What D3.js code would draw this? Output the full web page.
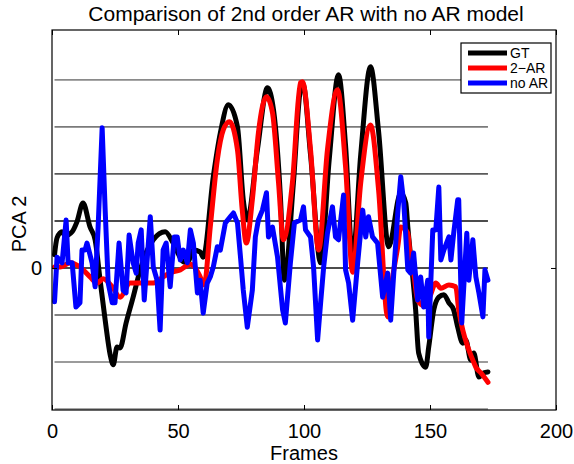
<!DOCTYPE html>
<html>
<head>
<meta charset="utf-8">
<script src="https://cdn.jsdelivr.net/npm/d3@7"></script>
<style>
body{margin:0;background:#fff;}
svg{display:block;}
text{font-family:"Liberation Sans",Arial,Helvetica,sans-serif;fill:#000;}
</style>
</head>
<body>
<svg id="c" width="574" height="464"></svg>
<script>
// ---- data ----
const xTicks = [0, 50, 100, 150, 200];
const yTicks = [0];
const gridLevels = [-3, -2, -1, 0, 1, 2, 3, 4];
const gridRange = [1, 173];

const gtFrames = [1,2,4,5.2,8,9.9,12.3,15.1,17.1,19.1,21.1,23.1,24.3,25.8,27,29.4,32.2,35,37.8,40.2,44.9,48.1,52.1,53.7,56.1,58.8,60,64,66.8,70,73.6,75.9,77.5,81.5,85.5,87.9,90.7,92.2,95.8,98.6,99.6,102.6,106.6,110,113.7,116.5,119.3,122.5,126.4,129.6,133.6,138.4,140.4,141.2,144.3,145.5,148.3,149.5,151.5,153.5,155.5,157.5,159.4,161,163,164.2,166.2,167.4,169.4,171.4,173];
const gtValues = [0.28,0.64,0.77,0.68,0.77,0.98,1.38,0.87,0.6,-0.26,-1.11,-1.85,-2.06,-1.68,-1.7,-1.17,-0.62,-0.04,0.38,0.6,0.77,0.53,0.13,0.11,0.38,0.34,0.23,1.94,2.87,3.47,3.0,1.45,1.02,2.51,3.83,3.36,1.45,-0.26,1.81,3.8,3.9,2.4,0.11,2.3,4.11,2.6,0.23,2.4,4.28,2.9,0.45,1.6,1.38,0.87,-0.89,-1.81,-2.11,-1.68,-0.89,-0.62,-0.57,-0.74,-0.89,-1.26,-1.6,-1.53,-1.96,-1.81,-2.32,-2.23,-2.21];

const arFrames = [1,3.2,7.2,11.1,15.1,17.9,20.3,23.9,27,31,33.8,37.8,40.2,44.1,46.5,50.9,54.9,56.9,58.8,60.4,62.8,65.6,68,70.4,73.6,75.5,77.1,79.5,81.9,85.1,87.5,89.9,91.8,95.4,98.6,99.4,102.6,105.8,109.3,113.3,116.5,119.3,122.5,126.4,129.6,133.2,135.2,137.2,138.4,141.2,142.3,143.5,145.1,147.5,150,152.3,154.3,157.5,160.2,161.4,163,165,167,168.2,170.2,173];
const arValues = [0.02,0.02,0.11,0.02,-0.19,-0.32,-0.23,-0.4,-0.62,-0.32,-0.32,-0.32,-0.32,-0.19,-0.11,-0.04,0.08,0.0,-0.19,-0.36,0.87,2.3,2.94,3.11,2.51,1.23,0.53,1.45,2.87,3.64,3.3,1.81,0.6,1.81,3.94,3.96,2.51,0.38,2.51,3.79,2.15,-0.09,1.81,3.04,1.66,-1.04,-0.19,0.45,0.87,0.74,0.17,-0.11,-0.68,-0.8,-0.6,-0.32,-0.43,-0.36,-0.4,-0.89,-1.32,-1.68,-1.96,-2.11,-2.23,-2.43];

const noarFrames = [1,2,4,5.6,6.4,8,9.5,11.1,11.9,13.1,13.9,15.9,17.1,18.3,19.9,21.1,22.3,23.9,25,26.6,28.2,29.4,30.6,32.2,33.4,34.2,35.4,36.6,39,40.2,41.7,42.9,44.1,45.3,46.9,48.5,49.7,50.9,52.1,53.7,54.9,56.1,57.7,58.8,60,61.6,62.8,64,65.6,66.8,68.8,70.8,72,73.6,74.8,75.9,77.5,79.5,80.7,81.9,83.5,85.1,85.9,87.5,89.5,91.5,92.6,94.6,96.2,98.6,99.8,100.6,102.6,103.8,105.4,106.6,107.8,109.3,111.3,112.5,113.7,115.7,116.5,117.7,119.3,121.3,123.3,124.5,125.6,127.2,129.2,131.2,133.2,134.4,137.2,138.4,139.6,141.2,142.3,143.5,145.1,146.3,147.5,149.1,149.5,151.1,152.3,153.5,154.3,155.5,157.5,158.3,159.4,161,161.4,162.6,164.6,165.4,167,168.2,169.4,171,171.8,173];
const noarValues = [-0.72,0.23,0.11,1.02,0.11,0.11,-0.83,-0.74,0.38,0.38,0.53,0.11,-0.4,0.87,2.98,1.23,-0.32,-0.74,-0.74,0.53,-0.47,-0.53,0.7,0.11,-0.11,0.53,0.81,-0.68,1.09,0.02,-0.26,-1.32,0.38,0.53,-0.4,0.66,0.66,0.17,0.38,0.11,0.81,0.53,-0.53,-0.26,-0.96,-0.32,-0.19,0.02,0.45,0.38,0.96,1.09,1.17,0.96,0.23,-0.47,-1.26,-0.47,0.66,1.02,1.23,1.6,0.66,0.87,0.23,-0.89,-1.17,0.11,0.96,1.02,1.3,0.81,0.66,0.02,-1.53,-0.74,0.02,0.74,1.3,0.66,0.6,1.55,-0.04,-0.32,-1.11,0.11,1.23,0.66,1.09,0.66,0.53,-0.62,-0.11,-1.11,1.17,1.94,1.38,-0.04,-0.11,0.32,-0.68,-0.19,-0.83,-0.26,-1.47,0.81,0.81,1.72,0.17,0.38,0.66,0.17,0.74,1.45,1.45,-1.17,0.74,-0.26,0.6,-0.19,-0.53,-1.04,-0.04,-0.26];

const seriesNames = ["GT", "2\u2212AR", "no AR"];

// ---- layout ----
const svg = d3.select("#c");
const L = 52, R = 556, T = 30, B = 410;
const x = d3.scaleLinear().domain([0, 200]).range([L, R]);
const y = d3.scaleLinear().domain([-3.02, 5.06]).range([B, T]);

const gridColors = ["#8a8a8a","#7a7a7a","#5a5a5a","#111","#111","#5a5a5a","#7a7a7a","#8a8a8a"];
const g = svg.append("g");

gridLevels.forEach((lv, i) => {
  g.append("line")
    .attr("x1", x(gridRange[0])).attr("x2", x(gridRange[1]))
    .attr("y1", y(lv)).attr("y2", y(lv))
    .attr("stroke", gridColors[i]).attr("stroke-width", 1.6);
});

function draw(fr, vals, color, curve) {
  const data = fr.map((f, i) => [f, vals[i]]);
  g.append("path").datum(data)
    .attr("fill", "none").attr("stroke", color).attr("stroke-width", 5)
    .attr("stroke-linejoin", "round").attr("stroke-linecap", "round")
    .attr("d", d3.line().x(d => x(d[0])).y(d => y(d[1])).curve(curve));
}
draw(gtFrames, gtValues, "#000", d3.curveMonotoneX);
draw(arFrames, arValues, "#ff0000", d3.curveMonotoneX);
draw(noarFrames, noarValues, "#0000ff", d3.curveLinear);

// axes box
svg.append("rect").attr("x", L).attr("y", T).attr("width", R - L).attr("height", B - T)
  .attr("fill", "none").attr("stroke", "#000").attr("stroke-width", 1.2);

const axB = d3.axisBottom(x).tickValues(xTicks).tickSizeInner(-5).tickSizeOuter(0).tickPadding(14);
const gb = svg.append("g").attr("transform", `translate(0,${B})`).call(axB);
const axT = d3.axisTop(x).tickValues(xTicks).tickSizeInner(-5).tickSizeOuter(0).tickFormat("");
const gt = svg.append("g").attr("transform", `translate(0,${T})`).call(axT);
const axL = d3.axisLeft(y).tickValues(yTicks).tickSizeInner(-5).tickSizeOuter(0).tickPadding(10);
const gl = svg.append("g").attr("transform", `translate(${L},0)`).call(axL);
const axR = d3.axisRight(y).tickValues(yTicks).tickSizeInner(-5).tickSizeOuter(0).tickFormat("");
const gr = svg.append("g").attr("transform", `translate(${R},0)`).call(axR);
[gb, gt, gl, gr].forEach(a => {
  a.select(".domain").remove();
  a.selectAll(".tick line").attr("stroke", "#000").attr("stroke-width", 1);
  a.selectAll(".tick text").attr("font-size", 20).attr("font-family", '"Liberation Sans",Arial,sans-serif').attr("fill", "#000");
});
gb.selectAll(".tick text").attr("dy", "0.71em");

// titles
svg.append("text").attr("x", (L + R) / 2 + 2).attr("y", 21).attr("text-anchor", "middle")
  .attr("font-size", 21).text("Comparison of 2nd order AR with no AR model");
svg.append("text").attr("x", (L + R) / 2).attr("y", 460).attr("text-anchor", "middle")
  .attr("font-size", 20).text("Frames");
svg.append("text").attr("transform", `translate(26,${(T + B) / 2 + 4}) rotate(-90)`)
  .attr("text-anchor", "middle").attr("font-size", 20).text("PCA 2");

// legend
const lg = svg.append("g");
lg.append("rect").attr("x", 461).attr("y", 43).attr("width", 90).attr("height", 50)
  .attr("fill", "#fff").attr("stroke", "#000").attr("stroke-width", 1.2);
const lcolors = ["#000", "#ff0000", "#0000ff"];
seriesNames.forEach((n, i) => {
  const yy = 53 + i * 15;
  lg.append("line").attr("x1", 468).attr("x2", 507).attr("y1", yy).attr("y2", yy)
    .attr("stroke", lcolors[i]).attr("stroke-width", 5);
  lg.append("text").attr("x", 510).attr("y", yy + 5).attr("font-size", 14).text(n);
});
</script>
</body>
</html>
